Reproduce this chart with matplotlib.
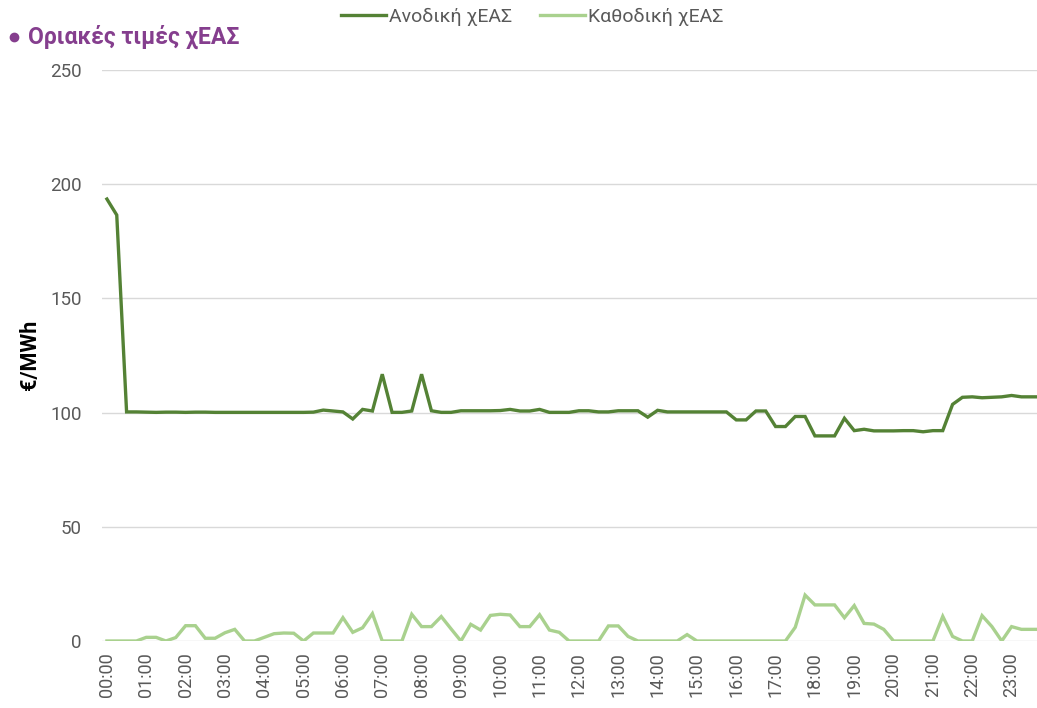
import matplotlib
matplotlib.use("Agg")
import matplotlib.pyplot as plt
from matplotlib.lines import Line2D

plt.rcParams['font.family'] = ['Roboto', 'DejaVu Sans']

times = [f"{h:02d}:{m:02d}" for h in range(24) for m in (0, 15, 30, 45)]

anodiki = [193.5, 186.5, 100.3, 100.3, 100.2, 100.1, 100.2, 100.2, 100.1, 100.2,
           100.2, 100.1, 100.1, 100.1, 100.1, 100.1, 100.1, 100.1, 100.1, 100.1,
           100.1, 100.2, 101.1, 100.7, 100.3, 97.2, 101.4, 100.7, 116.8, 100.1,
           100.1, 100.7, 116.8, 100.8, 100.1, 100.1, 100.8, 100.8, 100.8, 100.8,
           100.9, 101.4, 100.7, 100.7, 101.4, 100.1, 100.1, 100.1, 100.8, 100.8,
           100.3, 100.3, 100.8, 100.8, 100.8, 98.0, 101.0, 100.3, 100.3, 100.3,
           100.3, 100.3, 100.3, 100.3, 96.8, 96.8, 100.7, 100.7, 93.9, 93.9,
           98.3, 98.3, 89.8, 89.8, 89.8, 97.5, 92.1, 92.7, 92.0, 92.0,
           92.0, 92.1, 92.1, 91.6, 92.1, 92.1, 103.6, 106.7, 106.9, 106.5,
           106.7, 106.9, 107.5, 106.9, 106.9, 106.9]

katodiki = [0, 0, 0, 0, 1.6, 1.6, 0, 1.5, 6.7, 6.7,
            1.2, 1.2, 3.6, 5.1, 0, 0, 1.6, 3.2, 3.5, 3.4,
            0, 3.5, 3.5, 3.5, 10.2, 3.8, 5.8, 12.0, 0, 0,
            0, 11.7, 6.3, 6.3, 10.7, 5.3, 0, 7.3, 4.8, 11.2,
            11.7, 11.4, 6.3, 6.3, 11.5, 4.8, 3.8, 0, 0, 0,
            0, 6.6, 6.6, 2.0, 0, 0, 0, 0, 0, 2.8,
            0, 0, 0, 0, 0, 0, 0, 0, 0, 0,
            6.0, 20.1, 15.8, 15.8, 15.8, 10.2, 15.5, 7.7, 7.4, 5.1,
            0, 0, 0, 0, 0, 10.8, 2.0, 0, 0, 11.1,
            6.3, 0, 6.3, 5.1, 5.1, 5.1]

series_names = ["Ανοδική χΕΑΣ", "Καθοδική χΕΑΣ"]
colors = ["#548235", "#A9D18E"]
yticks = [0, 50, 100, 150, 200, 250]

W, H = 1037, 708
fig = plt.figure(figsize=(W / 100, H / 100), dpi=100)
ax = fig.add_axes([102 / W, 1 - 641 / H, (1046 - 102) / W, (641 - 70) / H])

x = list(range(len(times)))
ax.plot(x, anodiki, color=colors[0], lw=2.4, solid_joinstyle='miter', zorder=3)
ax.plot(x, katodiki, color=colors[1], lw=2.4, solid_joinstyle='miter', zorder=3)

ax.set_xlim(-0.5, len(times) - 0.5)
ax.set_ylim(0, 250)
ax.set_yticks(yticks)
ax.set_yticklabels([str(v) for v in yticks], fontsize=13.5, color="#595959")
ax.set_xticks(x[::4])
ax.set_xticklabels(times[::4], rotation=90, fontsize=13, color="#595959")
ax.tick_params(axis='x', length=0, pad=8)
ax.tick_params(axis='y', length=0, pad=14.5)
for s in ax.spines.values():
    s.set_visible(False)
ax.grid(axis='y', color="#D9D9D9", lw=1)
ax.set_axisbelow(True)

fig.text(30 / W, 1 - 355 / H, "€/MWh", rotation=90, fontsize=15.5, fontweight='bold',
         ha='center', va='center', color="black")

title_color = "#853E8E"
fig.add_artist(Line2D([14 / W], [1 - 37 / H], marker='o', markersize=6, linestyle='none',
                      color=title_color, transform=fig.transFigure))
fig.text(28 / W, 1 - 37 / H, "Οριακές τιμές χΕΑΣ", fontsize=16.6, fontweight='bold',
         color=title_color, ha='left', va='center')

handles = [Line2D([0], [0], color=c, lw=2.4) for c in colors]
fig.legend(handles, series_names, loc='center', bbox_to_anchor=(532 / W, 1 - 17 / H),
           ncol=2, frameon=False, fontsize=14, handlelength=2.3, handletextpad=0.15,
           columnspacing=1.45, labelcolor="#595959")

fig.savefig("out.png", dpi=100)
